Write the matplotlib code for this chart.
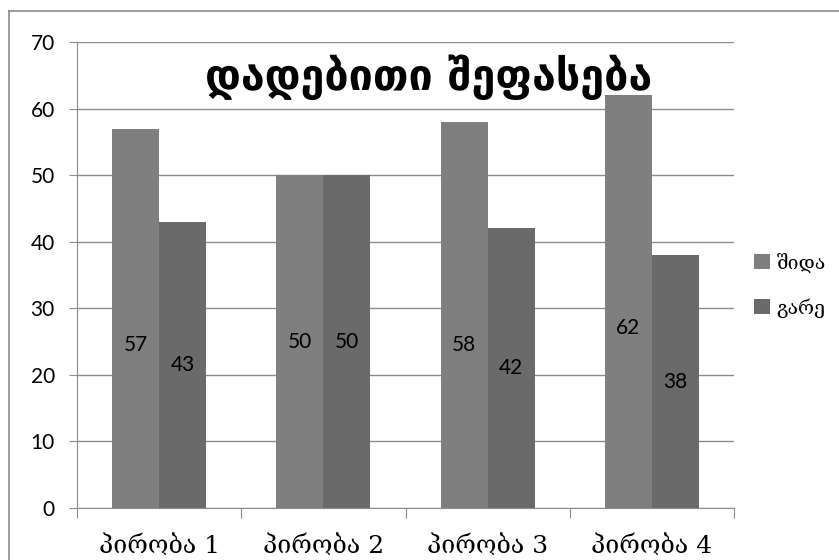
import numpy as np
import matplotlib.pyplot as plt
from matplotlib.lines import Line2D

categories = ['პირობა 1', 'პირობა 2', 'პირობა 3', 'პირობა 4']
inner = [57, 50, 58, 62]
outer = [43, 50, 42, 38]
series_names = ['შიდა', 'გარე']
title = 'დადებითი შეფასება'

# where the labels of the first series sit (data units), as in the original
inner_label_y = [24.5, 25, 24.5, 27]

c_inner = '#7f7f7f'
c_outer = '#6a6a6a'
grid_c = '#8c8c8c'

fig = plt.figure(figsize=(8.39, 5.60), dpi=100)
ax = fig.add_axes([77 / 839, 1 - 508 / 560, 657 / 839, 466 / 560])

x = np.arange(len(categories))
w = 1 / 3.5
ax.bar(x - w / 2, inner, w, color=c_inner, label=series_names[0], zorder=2)
ax.bar(x + w / 2, outer, w, color=c_outer, label=series_names[1], zorder=2)

for xi, v, ly in zip(x, inner, inner_label_y):
    ax.text(xi - w / 2, ly, str(v), ha='center', va='center', fontsize=15,
            family='Lato', zorder=3)
for xi, v in zip(x, outer):
    ax.text(xi + w / 2, v / 2, str(v), ha='center', va='center', fontsize=15,
            family='Lato', zorder=3)

ax.set_xlim(-0.5, len(categories) - 0.5)
ax.set_ylim(0, 70)
ax.set_yticks(range(0, 71, 10))
ax.yaxis.grid(True, color=grid_c, linewidth=1, zorder=0)
ax.set_axisbelow(True)
for s in ['top', 'right']:
    ax.spines[s].set_visible(False)
for s in ['left', 'bottom']:
    ax.spines[s].set_color(grid_c)
ax.tick_params(axis='y', length=6, color=grid_c, labelsize=15, pad=10)
for t in ax.get_yticklabels():
    t.set_family('Lato')

ax.set_xticks(np.arange(-0.5, len(categories), 1), minor=False)
ax.set_xticklabels([])
ax.set_xticks(x, minor=True)
ax.set_xticklabels(categories, minor=True, fontsize=18,
                   family=['DejaVu Serif', 'DejaVu Sans'])
ax.tick_params(axis='x', which='major', length=7, color=grid_c)
ax.tick_params(axis='x', which='minor', length=0, pad=19)

ax.text(0.535, 0.925, title, transform=ax.transAxes, ha='center', va='center',
        fontsize=31, fontweight='bold', family='DejaVu Sans')

ax.legend(loc='center left', bbox_to_anchor=(1 + 20 / 657, 0.478), frameon=False,
          handlelength=0.8, handleheight=0.8, handletextpad=0.35,
          labelspacing=1.3, borderaxespad=0, borderpad=0,
          prop={'family': ['DejaVu Serif', 'DejaVu Sans'], 'size': 14})

fig.add_artist(Line2D([8.5 / 839, 8.5 / 839], [0, 1 - 10.5 / 560], color=grid_c, lw=1.2))
fig.add_artist(Line2D([8.5 / 839, 1], [1 - 10.5 / 560, 1 - 10.5 / 560], color=grid_c, lw=1.2))

fig.savefig('out.png', dpi=100)
